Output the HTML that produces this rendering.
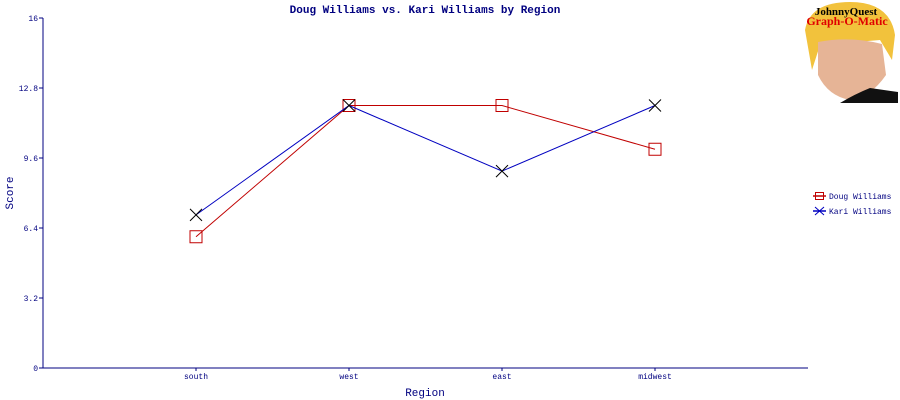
<!DOCTYPE html>
<html><head><meta charset="utf-8"><style>
body{margin:0;background:#fff;}
svg{display:block;font-family:"Liberation Mono",monospace;}
</style></head><body>
<svg id="chart" width="900" height="400">
<text x="425" y="13" text-anchor="middle" font-size="11" font-weight="bold" fill="#000080">Doug Williams vs. Kari Williams by Region</text>
<g>
<rect x="798" y="0" width="102" height="103" fill="#fff"/>
<path d="M805 30 Q810 2 850 2 Q890 2 895 35 L892 60 L880 40 L820 45 L812 70 Z" fill="#f2c23c"/>
<path d="M818 42 Q850 36 882 44 L886 75 Q870 98 850 100 Q828 96 818 75 Z" fill="#e6b496"/>
<path d="M840 103 Q855 94 870 88 L898 92 L898 103 Z" fill="#111"/>
<text x="846" y="15" text-anchor="middle" font-family="Liberation Serif,serif" font-size="11" font-weight="bold" fill="#000">JohnnyQuest</text>
<text x="847" y="25" text-anchor="middle" font-family="Liberation Serif,serif" font-size="12" font-weight="bold" fill="#e00000">Graph-O-Matic</text>
</g>
<g id="axes"></g><g id="series"></g>
<text x="425" y="396" text-anchor="middle" font-size="11" fill="#000080">Region</text>
<text x="13" y="193" text-anchor="middle" font-size="11" fill="#000080" transform="rotate(-90 13 193)">Score</text>
<g>
<line x1="813" y1="196" x2="826" y2="196" stroke="#c00000" stroke-width="1.5"/>
<rect x="815.5" y="192.5" width="8" height="7" fill="none" stroke="#c00000"/>
<text x="829" y="199" font-size="8" fill="#000080">Doug Williams</text>
</g>
<g>
<line x1="813" y1="211" x2="826" y2="211" stroke="#0000c0" stroke-width="1.5"/>
<path d="M815 207 L824 215 M824 207 L815 215" stroke="#0000c0"/>
<text x="829" y="214" font-size="8" fill="#000080">Kari Williams</text>
</g>
</svg>
<script>
const categories=["south","west","east","midwest"];
const dougValues=[6,12,12,10];
const kariValues=[7,12,9,12];
const yTicks=[0,3.2,6.4,9.6,12.8,16];
const yTickLabels=["0","3.2","6.4","9.6","12.8","16"];
const NS="http://www.w3.org/2000/svg";
const L=43,R=808,T=18,B=368,YMAX=16;
const xs=i=>L+(i+1)*(R-L)/(categories.length+1);
const ys=v=>B-v/YMAX*(B-T);
function mk(tag,a,parent){const e=document.createElementNS(NS,tag);for(const k in a)e.setAttribute(k,a[k]);parent.appendChild(e);return e;}
const ax=document.getElementById('axes'),se=document.getElementById('series');
let e=mk('line',{x1:L,y1:T,x2:L,y2:B,stroke:'#000080'},ax);


e=mk('line',{x1:L,y1:B,x2:R,y2:B,stroke:'#000080'},ax);


yTicks.forEach((v,i)=>{
 mk('line',{x1:L-4,y1:ys(v),x2:L,y2:ys(v),stroke:'#000080'},ax);
 const t=mk('text',{x:L-5,y:ys(v)+3,'text-anchor':'end','font-size':'8',fill:'#000080'},ax);
 t.textContent=yTickLabels[i];
 
 
});
categories.forEach((c,i)=>{
 mk('line',{x1:xs(i),y1:B,x2:xs(i),y2:B+3,stroke:'#000080'},ax);
 const t=mk('text',{x:xs(i),y:B+11,'text-anchor':'middle','font-size':'8',fill:'#000080'},ax);
 t.textContent=c;
 
 
});
function series(vals,color,marker,name){
 const p=mk('polyline',{points:vals.map((v,i)=>xs(i)+','+ys(v)).join(' '),fill:'none',stroke:color},se);
 
 
 vals.forEach((v,i)=>{
  const x=xs(i),y=ys(v);let m;
  if(marker==='sq')m=mk('rect',{x:x-6,y:y-6,width:12,height:12,fill:'none',stroke:'#c00000'},se);
  else m=mk('path',{d:`M${x-6} ${y-6}L${x+6} ${y+6}M${x+6} ${y-6}L${x-6} ${y+6}`,stroke:'#000','stroke-width':'1'},se);
  
  
 });
}
series(dougValues,'#c00000','sq','doug');
series(kariValues,'#0000c0','x','kari');
</script>
</body></html>
